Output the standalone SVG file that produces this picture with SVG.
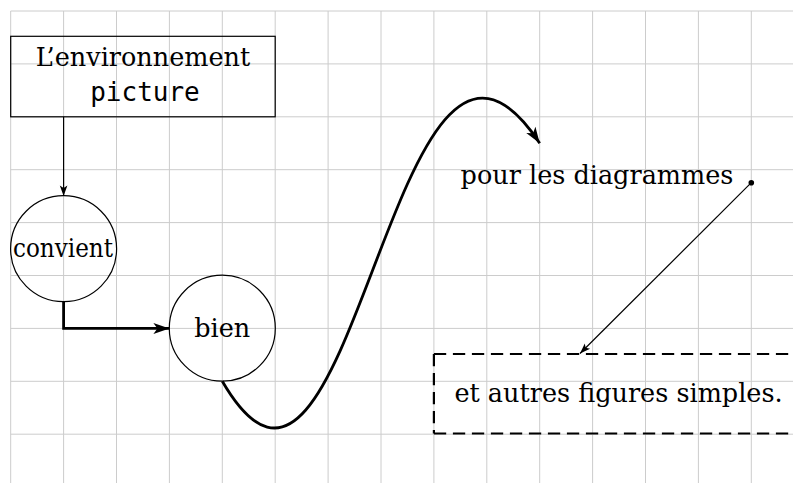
<svg xmlns="http://www.w3.org/2000/svg" width="793" height="483" viewBox="0 0 793 483">
<style>
.grid line{stroke:#cccccc;stroke-width:1}
.serif{font-family:"DejaVu Serif","Liberation Serif",serif;font-size:25.5px;fill:#000}
.mono{font-family:"DejaVu Sans Mono","Liberation Mono",monospace;font-size:26px;fill:#000}
.shape{fill:none;stroke:#000;stroke-width:1.2}
.thin{fill:none;stroke:#000;stroke-width:1.2}
.thick{fill:none;stroke:#000;stroke-width:2.8}
.dash{fill:none;stroke:#000;stroke-width:2.2;stroke-dasharray:12.3 6.7}
</style>
<defs>
<marker id="aSmall" viewBox="-12 -5 14 10" refX="0" refY="0" markerWidth="14" markerHeight="10" markerUnits="userSpaceOnUse" orient="auto">
<path d="M0,0 L-10.5,-3.8 L-8,0 L-10.5,3.8 Z" fill="#000"/>
</marker>
<marker id="aBig" viewBox="-18 -7 20 14" refX="0" refY="0" markerWidth="20" markerHeight="14" markerUnits="userSpaceOnUse" orient="auto">
<path d="M0,0 L-16,-5.5 L-12,0 L-16,5.5 Z" fill="#000"/>
</marker>
</defs>
<rect width="793" height="483" fill="#fff"/>
<g class="grid">
<line x1="10.7" y1="11" x2="10.7" y2="483"/>
<line x1="63.6" y1="11" x2="63.6" y2="483"/>
<line x1="116.5" y1="11" x2="116.5" y2="483"/>
<line x1="169.4" y1="11" x2="169.4" y2="483"/>
<line x1="222.3" y1="11" x2="222.3" y2="483"/>
<line x1="275.2" y1="11" x2="275.2" y2="483"/>
<line x1="328.1" y1="11" x2="328.1" y2="483"/>
<line x1="381" y1="11" x2="381" y2="483"/>
<line x1="433.9" y1="11" x2="433.9" y2="483"/>
<line x1="486.8" y1="11" x2="486.8" y2="483"/>
<line x1="539.7" y1="11" x2="539.7" y2="483"/>
<line x1="592.6" y1="11" x2="592.6" y2="483"/>
<line x1="645.5" y1="11" x2="645.5" y2="483"/>
<line x1="698.4" y1="11" x2="698.4" y2="483"/>
<line x1="751.3" y1="11" x2="751.3" y2="483"/>
<line x1="10.7" y1="11" x2="793" y2="11"/>
<line x1="10.7" y1="63.9" x2="793" y2="63.9"/>
<line x1="10.7" y1="116.8" x2="793" y2="116.8"/>
<line x1="10.7" y1="169.7" x2="793" y2="169.7"/>
<line x1="10.7" y1="222.6" x2="793" y2="222.6"/>
<line x1="10.7" y1="275.5" x2="793" y2="275.5"/>
<line x1="10.7" y1="328.4" x2="793" y2="328.4"/>
<line x1="10.7" y1="381.3" x2="793" y2="381.3"/>
<line x1="10.7" y1="434.2" x2="793" y2="434.2"/>
</g>
<g id="connectors">
<line class="thin" x1="63.6" y1="116.8" x2="63.6" y2="196" marker-end="url(#aSmall)"/>
<path class="thick" d="M63.6,302 L63.6,328.4 L169.4,328.4" marker-end="url(#aBig)"/>
<path class="thick" d="M222.3,381.3 C354.6,608.8 391.6,-80 539.7,143.2" marker-end="url(#aBig)"/>
<line class="thin" x1="751.3" y1="182.7" x2="580" y2="353.5" marker-end="url(#aSmall)"/>
<circle cx="751.3" cy="182.7" r="2.8" fill="#000"/>
</g>
<g id="node-picture">
<rect class="shape" x="10.7" y="36.3" width="264.5" height="80.5"/>
<text class="serif" x="143" y="66" text-anchor="middle">L’environnement</text>
<text class="mono" x="145" y="101" text-anchor="middle">picture</text>
</g>
<g id="node-convient">
<circle class="shape" cx="63.6" cy="248.7" r="53"/>
<text class="serif" x="63" y="257.3" text-anchor="middle" textLength="100" lengthAdjust="spacingAndGlyphs">convient</text>
</g>
<g id="node-bien">
<circle class="shape" cx="222.3" cy="328.2" r="53"/>
<text class="serif" x="222.2" y="336.7" text-anchor="middle">bien</text>
</g>
<g id="node-diagrammes">
<text class="serif" x="597" y="184" text-anchor="middle">pour les diagrammes</text>
</g>
<g id="node-figures">
<line class="dash" x1="433.9" y1="354" x2="805" y2="354"/>
<line class="dash" x1="433.9" y1="433.5" x2="805" y2="433.5"/>
<line class="dash" x1="433.9" y1="354" x2="433.9" y2="433.5"/>
<text class="serif" x="618.5" y="401.7" text-anchor="middle">et autres figures simples.</text>
</g>
</svg>
